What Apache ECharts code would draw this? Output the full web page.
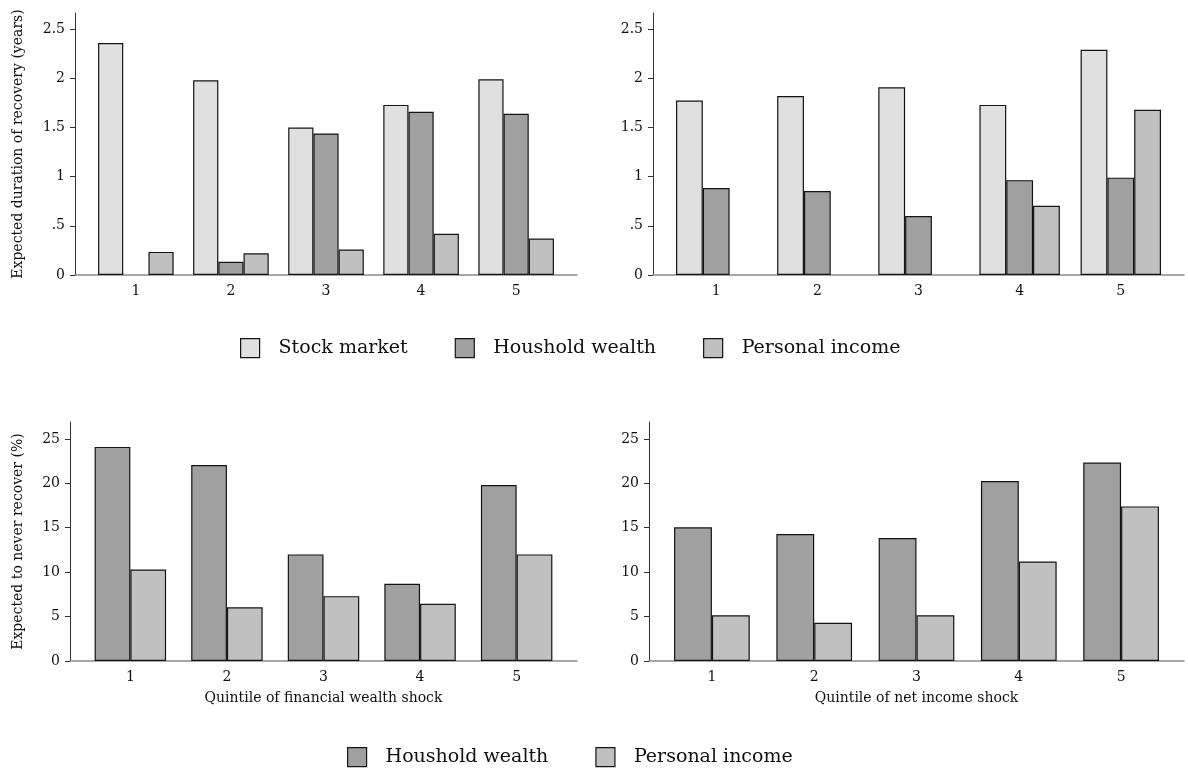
<!DOCTYPE html>
<html>
<head>
<meta charset="utf-8">
<script src="https://cdn.jsdelivr.net/npm/echarts@6/dist/echarts.min.js"></script>
<style>
  html, body { margin: 0; padding: 0; background: #fff; }
  #chart { width: 1188px; height: 772px; }
</style>
</head>
<body>
<div id="chart"></div>
<script>
// quintiles
const quintiles = [1, 2, 3, 4, 5];

// top row: expected duration of recovery (years)
const durWealthStock = [2.36, 1.98, 1.50, 1.73, 1.99];
const durWealthHouse = [null, 0.135, 1.44, 1.66, 1.64];
const durWealthIncome = [0.235, 0.22, 0.26, 0.42, 0.37];
const durIncomeStock = [1.775, 1.82, 1.91, 1.73, 2.29];
const durIncomeHouse = [0.885, 0.855, 0.60, 0.965, 0.99];
const durIncomeIncome = [null, null, null, 0.705, 1.68];

// bottom row: expected to never recover (%)
const neverWealthHouse = [24.1, 22.05, 12.0, 8.7, 19.8];
const neverWealthIncome = [10.3, 6.05, 7.3, 6.45, 12.0];
const neverIncomeHouse = [15.05, 14.3, 13.85, 20.25, 22.35];
const neverIncomeIncome = [5.15, 4.3, 5.15, 11.2, 17.4];

// tick labels
const yTicksTop = [0, 0.5, 1, 1.5, 2, 2.5];
const yTicksBottom = [0, 5, 10, 15, 20, 25];

const FONT = 'DejaVu Serif';
const colors = {
  'Stock market': '#e0e0e0',
  'Houshold wealth': '#a0a0a0',
  'Personal income': '#c0c0c0'
};

function pairs(values) {
  return quintiles.map((q, i) => [q, values[i]]);
}

function barSeries(name, values, idx, width) {
  return {
    name: name,
    type: 'bar',
    xAxisIndex: idx,
    yAxisIndex: idx,
    barWidth: width,
    barGap: '0%',
    data: pairs(values),
    itemStyle: { color: colors[name], borderColor: '#141414', borderWidth: 1.2 }
  };
}

function xAxis(idx, min, max, name) {
  return {
    type: 'value',
    gridIndex: idx,
    min: min,
    max: max,
    name: name || '',
    nameLocation: 'middle',
    nameGap: 30,
    nameTextStyle: { fontFamily: FONT, fontSize: 14, color: '#111' },
    axisLine: { show: true, onZero: false, lineStyle: { color: '#8c8c8c', width: 1.5 } },
    axisTick: { show: false },
    splitLine: { show: false },
    axisLabel: {
      customValues: quintiles,
      margin: 9,
      fontFamily: FONT,
      fontSize: 14,
      color: '#111'
    }
  };
}

function yAxis(idx, max, ticks, name, gap, fmt) {
  return {
    type: 'value',
    gridIndex: idx,
    min: 0,
    max: max,
    name: name || '',
    nameLocation: 'middle',
    nameGap: gap,
    nameTextStyle: { fontFamily: FONT, fontSize: 14, color: '#111' },
    axisLine: { show: true, onZero: false, lineStyle: { color: '#333', width: 1 } },
    axisTick: { show: true, length: 5, customValues: ticks, lineStyle: { color: '#333' } },
    splitLine: { show: false },
    axisLabel: {
      customValues: ticks,
      margin: 10,
      fontFamily: FONT,
      fontSize: 14,
      color: '#111',
      formatter: fmt
    }
  };
}

const shortDec = v => (v === 0 ? '0' : String(v).replace(/^0\./, '.'));

const legendText = {
  fontFamily: FONT,
  fontSize: 19,
  color: '#111',
  padding: [0, 0, 0, 14]
};

const chart = echarts.init(document.getElementById('chart'));
chart.setOption({
  animation: false,
  backgroundColor: '#fff',
  grid: [
    { left: 75, top: 13, width: 502, height: 262 },
    { left: 653, top: 13, width: 531, height: 262 },
    { left: 70, top: 422, width: 507, height: 239 },
    { left: 649, top: 422, width: 535, height: 239 }
  ],
  xAxis: [
    xAxis(0, 0.36, 5.64),
    xAxis(1, 0.375, 5.625),
    xAxis(2, 0.375, 5.625, 'Quintile of financial wealth shock'),
    xAxis(3, 0.385, 5.615, 'Quintile of net income shock')
  ],
  yAxis: [
    yAxis(0, 2.665, yTicksTop, 'Expected duration of recovery (years)', 50, shortDec),
    yAxis(1, 2.665, yTicksTop, '', 50, shortDec),
    yAxis(2, 26.9, yTicksBottom, 'Expected to never recover (%)', 45),
    yAxis(3, 26.9, yTicksBottom, '', 45)
  ],
  legend: [
    {
      left: 240,
      top: 338,
      padding: 0,
      icon: 'rect',
      itemWidth: 19,
      itemHeight: 19,
      itemGap: 47,
      itemStyle: { borderColor: '#141414', borderWidth: 1.2 },
      textStyle: legendText,
      data: ['Stock market', 'Houshold wealth', 'Personal income']
    },
    {
      left: 347,
      top: 747,
      padding: 0,
      icon: 'rect',
      itemWidth: 19,
      itemHeight: 19,
      itemGap: 47,
      itemStyle: { borderColor: '#141414', borderWidth: 1.2 },
      textStyle: legendText,
      data: ['Houshold wealth', 'Personal income']
    }
  ],
  series: [
    barSeries('Stock market', durWealthStock, 0, '26.5%'),
    barSeries('Houshold wealth', durWealthHouse, 0, '26.5%'),
    barSeries('Personal income', durWealthIncome, 0, '26.5%'),
    barSeries('Stock market', durIncomeStock, 1, '26.5%'),
    barSeries('Houshold wealth', durIncomeHouse, 1, '26.5%'),
    barSeries('Personal income', durIncomeIncome, 1, '26.5%'),
    barSeries('Houshold wealth', neverWealthHouse, 2, '37%'),
    barSeries('Personal income', neverWealthIncome, 2, '37%'),
    barSeries('Houshold wealth', neverIncomeHouse, 3, '37%'),
    barSeries('Personal income', neverIncomeIncome, 3, '37%')
  ]
});
</script>
</body>
</html>
